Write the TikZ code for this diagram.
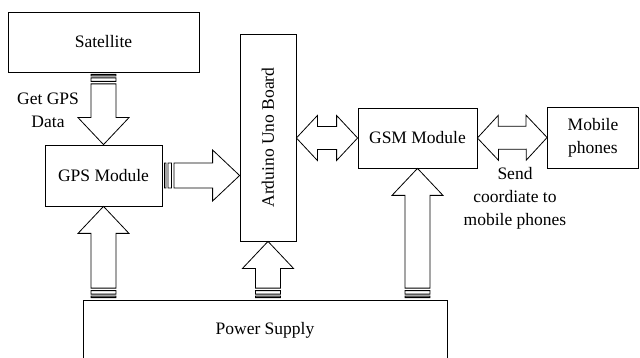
\documentclass[tikz,border=0pt]{standalone}
\usepackage{fontspec}
\setmainfont{Liberation Serif}
\usepackage{tikz}
\usetikzlibrary{calc}

% block arrow from #1 to #2, striped tail
\newcommand{\blockarrow}[2]{%
\draw let \p1=(#1),\p2=(#2),\n1={atan2(\y2-\y1,\x2-\x1)},\n2={veclen(\x2-\x1,\y2-\y1)} in
 [shift={(\p1)},rotate=\n1]
 (2pt,-12.5pt) rectangle (3.5pt,12.5pt)
 (5.5pt,-12.5pt) rectangle (9pt,12.5pt)
 (11.5pt,-12.5pt)--({\n2-27pt},-12.5pt)--({\n2-27pt},-25.5pt)--(\n2,0pt)
 --({\n2-27pt},25.5pt)--({\n2-27pt},12.5pt)--(11.5pt,12.5pt)--cycle;}
% double block arrow between #1 and #2
\newcommand{\dblarrow}[2]{%
\draw let \p1=(#1),\p2=(#2),\n1={atan2(\y2-\y1,\x2-\x1)},\n2={veclen(\x2-\x1,\y2-\y1)} in
 [shift={(\p1)},rotate=\n1]
 (0pt,0pt)--(21pt,22.5pt)--(21pt,11.5pt)--({\n2-21pt},11.5pt)--({\n2-21pt},22.5pt)--(\n2,0pt)
 --({\n2-21pt},-22.5pt)--({\n2-21pt},-11.5pt)--(21pt,-11.5pt)--(21pt,-22.5pt)--cycle;}

\begin{document}
\begin{tikzpicture}[x=1pt,y=-1pt,line width=0.8pt,
 font=\fontsize{17.5}{23}\selectfont,
 box/.style={draw,inner sep=0pt,align=center}]
\useasboundingbox (0,0) rectangle (640,358);
\node[box,minimum width=191,minimum height=60](sat) at (103.5,42){Satellite};
\node[box,minimum width=117,minimum height=61](gps) at (103.5,175.5){GPS Module};
\node[box,minimum width=56,minimum height=207](ard) at (268,137.5){\rotatebox{90}{Arduino Uno Board}};
\node[box,minimum width=119,minimum height=60](gsm) at (417.5,138){GSM Module};
\node[box,minimum width=91,minimum height=61](mob) at (593,137.5){Mobile\\phones};
\node[box,minimum width=364,minimum height=60](pow) at (265,330){Power Supply};
\node[align=center](getgps) at (48,110){Get GPS\\Data};
\node[align=center](send) at (515,198){Send\\coordiate to\\mobile phones};
\blockarrow{sat.south}{gps.north}
\blockarrow{gps.east}{gps.east -| ard.west}
\blockarrow{gps.south |- pow.north}{gps.south}
\blockarrow{ard.south |- pow.north}{ard.south}
\blockarrow{gsm.south |- pow.north}{gsm.south}
\dblarrow{gsm.west -| ard.east}{gsm.west}
\dblarrow{gsm.east}{mob.west}
\end{tikzpicture}
\end{document}
